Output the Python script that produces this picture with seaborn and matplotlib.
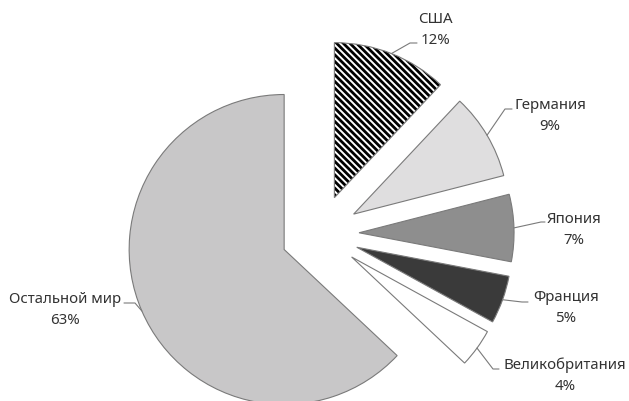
import matplotlib
matplotlib.use("Agg")
import matplotlib.pyplot as plt
from matplotlib.patches import Wedge
import numpy as np
import seaborn as sns

# Share of world total, by country (percent)
countries = ["Остальной мир", "Великобритания", "Франция", "Япония", "Германия", "США"]
shares = [63, 4, 5, 7, 9, 12]
fills = ["#c8c7c8", "#ffffff", "#3a3a3a", "#8e8e8e", "#dfdedf", "#ffffff"]

sns.set_theme(style="white")
plt.rcParams["font.family"] = ["Noto Sans", "DejaVu Sans"]
plt.rcParams["hatch.linewidth"] = 2.0

W, H = 629, 401
CX, CY, R = 320, 234, 155  # pie centre and radius in pixels


def to_data(px, py):
    return (px - CX) / R, (CY - py) / R


fig = plt.figure(figsize=(W / 100, H / 100), dpi=100)
ax = fig.add_axes([0, 0, 1, 1])

edge = "#7a7a7a"
wedges, _ = ax.pie(
    shares,
    explode=[0.252] * len(shares),
    startangle=90,
    counterclock=True,
    colors=fills,
    radius=1,
    wedgeprops=dict(edgecolor=edge, linewidth=0.8),
)

# Hatched slice: black stripes, then a gray outline on top
usa = wedges[countries.index("США")]
usa.set_hatch("\\" * 5)
usa.set_edgecolor("black")
usa.set_linewidth(0)
ax.add_patch(Wedge(usa.center, usa.r, usa.theta1, usa.theta2,
                   fill=False, edgecolor=edge, linewidth=0.8, zorder=usa.get_zorder() + 0.1))

ax.set_xlim(-CX / R, (W - CX) / R)
ax.set_ylim(-(H - CY) / R, CY / R)
ax.set_aspect("equal")
ax.axis("off")

# Label block centres and leader elbows/ends (pixels)
label_pos = {
    "США": (435, 30),
    "Германия": (550, 116),
    "Япония": (574, 230),
    "Франция": (566, 308),
    "Великобритания": (565, 376),
    "Остальной мир": (65, 310),
}
leader_pts = {
    "США": [(410, 43), (417, 43)],
    "Германия": [(505, 109), (512, 109)],
    "Япония": [(541, 222), (545, 222)],
    "Франция": [(522, 302), (528, 302)],
    "Великобритания": [(493, 369), (499, 369)],
    "Остальной мир": [(135, 303), (124, 303)],
}

text_color = "#333333"
for name, share, w in zip(countries, shares, wedges):
    mid = np.deg2rad((w.theta1 + w.theta2) / 2)
    sx = w.center[0] + w.r * np.cos(mid)
    sy = w.center[1] + w.r * np.sin(mid)
    pts = [(sx, sy)] + [to_data(*p) for p in leader_pts[name]]
    xs, ys = zip(*pts)
    ax.plot(xs, ys, color=edge, linewidth=0.8, zorder=5)
    tx, ty = to_data(*label_pos[name])
    ax.text(tx, ty, f"{name}\n{share}%", ha="center", va="center",
            multialignment="center", fontsize=10.8, color=text_color,
            linespacing=1.55, zorder=6)

fig.savefig("out.png", dpi=100)
